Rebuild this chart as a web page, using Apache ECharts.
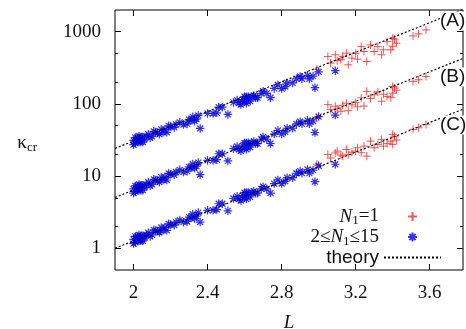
<!DOCTYPE html>
<html>
<head>
<meta charset="utf-8">
<script src="https://cdn.jsdelivr.net/npm/echarts@6/dist/echarts.min.js"></script>
<style>
html, body {margin: 0; padding: 0; background: #fff;}
#chart {width: 466px; height: 329px;}
</style>
</head>
<body>
<div id="chart"></div>
<script>
// L of the networks with 2<=N1<=15 (same networks in the three bands)
const blueL = [2.00, 2.01, 2.02, 2.02, 2.03, 2.03, 2.04, 2.05, 2.06, 2.08,
    2.10, 2.11, 2.13, 2.14, 2.15, 2.17, 2.18, 2.20, 2.22, 2.25,
    2.27, 2.30, 2.31, 2.33, 2.35, 2.36, 2.40, 2.43, 2.46, 2.48,
    2.51, 2.54, 2.57, 2.59, 2.60, 2.61, 2.62, 2.63, 2.65, 2.67,
    2.70, 2.72, 2.74, 2.76, 2.78, 2.80, 2.83, 2.86, 2.88, 2.91,
    2.94, 2.97, 2.98, 3.00, 3.09,
    2.00, 2.01, 2.03, 2.04, 2.05, 2.07, 2.09, 2.12, 2.16, 2.19,
    2.23, 2.29, 2.32, 2.34, 2.45, 2.56, 2.58, 2.60, 2.61, 2.62,
    2.64, 2.66, 2.69, 2.82, 2.90, 2.95];
const blueA = [31.2, 28.4, 34.1, 30.4, 31.8, 35.7, 29.7, 34.8, 32.5, 38.1,
    35.5, 41.7, 39.7, 37.9, 44.5, 44.4, 40.4, 48.5, 47.3, 55.5,
    51.7, 60.5, 59.1, 57.7, 69.2, 45.7, 73.8, 73.6, 90.3, 90.1,
    71.4, 105, 103, 115, 107, 126, 117, 109, 131, 122,
    150, 140, 122, 164, 183, 163, 195, 195, 223, 223,
    249, 243, 168, 278, 289,
    27.2, 34.2, 29.7, 34.9, 29.6, 35.6, 33.9, 40.7, 40.5, 49.7,
    51.9, 52.8, 66.3, 61.7, 75.2, 113, 97.9, 126, 102, 126,
    125, 122, 140, 174, 239, 222];
const blueB = [6.67, 6.08, 7.31, 6.52, 6.83, 7.66, 6.37, 7.49, 6.99, 8.22,
    7.67, 9.02, 8.62, 8.23, 9.67, 9.68, 8.83, 10.6, 10.4, 12.2,
    11.4, 13.4, 13.1, 12.8, 15.4, 10.5, 16.5, 16.5, 20.4, 20.4,
    16.2, 24.0, 23.4, 26.3, 24.5, 28.8, 26.9, 25.1, 30.2, 28.2,
    34.8, 32.4, 28.3, 38.2, 42.8, 38.2, 46.0, 46.0, 52.8, 52.9,
    59.3, 58.0, 40.2, 66.7, 70.0,
    5.81, 7.31, 6.37, 7.49, 6.38, 7.67, 7.33, 8.81, 8.82, 10.9,
    11.4, 11.7, 14.7, 13.7, 16.9, 25.7, 22.4, 28.8, 23.5, 28.9,
    28.9, 28.2, 32.4, 41.0, 56.6, 52.9];
const blueC = [1.33, 1.21, 1.46, 1.30, 1.36, 1.53, 1.27, 1.49, 1.40, 1.64,
    1.53, 1.80, 1.73, 1.65, 1.94, 1.94, 1.77, 2.13, 2.09, 2.46,
    2.30, 2.70, 2.64, 2.59, 3.12, 2.31, 3.35, 3.36, 4.14, 4.14,
    3.30, 4.89, 4.79, 5.38, 5.02, 5.91, 5.51, 5.15, 6.20, 5.80,
    7.14, 6.68, 5.82, 7.87, 8.84, 7.89, 9.50, 9.52, 10.95, 10.97,
    12.34, 12.08, 8.36, 13.9, 14.6,
    1.16, 1.46, 1.27, 1.49, 1.27, 1.53, 1.46, 1.76, 1.77, 2.18,
    2.29, 2.35, 2.97, 2.78, 3.44, 5.25, 4.58, 5.90, 4.80, 5.91,
    5.92, 5.79, 6.66, 8.47, 11.75, 11.0];

// L of the networks with N1=1
const redL = [2.99, 3.05, 3.065, 3.09, 3.10, 3.12, 3.13, 3.15, 3.16, 3.18,
    3.20, 3.21, 3.23, 3.245, 3.26, 3.28, 3.30, 3.32, 3.34, 3.35,
    3.37, 3.39, 3.40, 3.40, 3.41, 3.42, 3.51, 3.54, 3.58];
const redA = [302, 454, 368, 479, 398, 408, 457, 505, 348, 431,
    501, 417, 622, 532, 387, 658, 532, 622, 479, 562,
    729, 561, 813, 631, 789, 692, 875, 933, 1059];
const redB = [64.6, 97.7, 83.2, 92.7, 85.1, 79.1, 95.5, 102, 80.5, 97.0,
    104, 91.0, 121, 93.5, 149, 119, 134, 147, 109, 136,
    127, 122, 175, 141, 166, 155, 205, 216, 240];
const redC = [14.6, 19.95, 17.8, 20.9, 22.2, 19.5, 18.9, 23.4, 19.9, 21.4,
    22.2, 24.7, 21.1, 26.0, 18.9, 30.5, 24.7, 27.5, 32.2, 26.0,
    28.2, 30.5, 37.8, 27.5, 35.7, 31.6, 44.3, 46.7, 51.8];

// theory lines, end points
const theoryL = [1.9, 3.78];
const theoryA = [24.2, 2040];
const theoryB = [5.05, 427];
const theoryC = [1.0, 84.5];

const xTicks = [2, 2.4, 2.8, 3.2, 3.6];
const yTicks = [1, 10, 100, 1000];
const yMinorTicks = [2, 5, 20, 50, 200, 500];
const bandLabels = ['(A)', '(B)', '(C)'];

const zip = (xs, ys) => xs.map((x, i) => [x, ys[i]]);

const serif = '"Liberation Serif", "Times New Roman", serif';
const sans = '"Liberation Sans", Arial, sans-serif';
const plus = 'path://M0,5L10,5M5,0L5,10';
const star = 'path://M0,5L10,5M5,0L5,10M1.5,1.5L8.5,8.5M1.5,8.5L8.5,1.5';

const rich = {
    r: {fontFamily: serif, fontSize: 19, color: '#111', lineHeight: 22},
    i: {fontFamily: serif, fontSize: 19, fontStyle: 'italic', color: '#111', lineHeight: 22},
    s: {fontFamily: serif, fontSize: 13, color: '#111', lineHeight: 13, verticalAlign: 'bottom'},
    t: {fontFamily: sans, fontSize: 19, color: '#111', lineHeight: 22}
};

const xAxisBase = {
    type: 'value', min: 1.9, max: 3.78,
    axisLine: {show: false}, splitLine: {show: false},
    axisTick: {inside: true, length: 6, customValues: xTicks, lineStyle: {color: '#000'}}
};
const yAxisBase = {
    type: 'log', logBase: 10, min: 0.5, max: 2000,
    axisLine: {show: false}, splitLine: {show: false}
};

const chart = echarts.init(document.getElementById('chart'));
chart.setOption({
    animation: false,
    grid: {left: 115, right: 3, top: 10, bottom: 59, outerBoundsMode: 'none',
        show: true, borderColor: '#000', borderWidth: 1},
    xAxis: [
        Object.assign({}, xAxisBase, {
            position: 'bottom',
            name: 'L', nameLocation: 'middle', nameGap: 43,
            nameTextStyle: {fontFamily: serif, fontStyle: 'italic', fontSize: 19, color: '#111'},
            axisLabel: {customValues: xTicks, margin: 14, fontFamily: serif, fontSize: 19, color: '#111',
                formatter: v => String(v)}
        }),
        Object.assign({}, xAxisBase, {position: 'top', axisLabel: {show: false}})
    ],
    yAxis: [
        Object.assign({}, yAxisBase, {
            position: 'left',
            name: '{r|κ}{s|cr}', nameLocation: 'middle', nameRotate: 0, nameGap: 78,
            nameTextStyle: {rich: rich, padding: [6, 0, 0, 0]},
            axisTick: {inside: true, length: 6, customValues: yTicks, lineStyle: {color: '#000'}},
            axisLabel: {customValues: yTicks, margin: 14, fontFamily: serif, fontSize: 19, color: '#111',
                formatter: v => String(Math.round(v))}
        }),
        Object.assign({}, yAxisBase, {
            position: 'left', axisLabel: {show: false},
            axisTick: {inside: true, length: 3, customValues: yMinorTicks, lineStyle: {color: '#000'}}
        }),
        Object.assign({}, yAxisBase, {
            position: 'right', axisLabel: {show: false},
            axisTick: {inside: true, length: 6, customValues: yTicks, lineStyle: {color: '#000'}}
        }),
        Object.assign({}, yAxisBase, {
            position: 'right', axisLabel: {show: false},
            axisTick: {inside: true, length: 3, customValues: yMinorTicks, lineStyle: {color: '#000'}}
        })
    ],
    legend: {
        orient: 'vertical', align: 'right', right: 24, top: 207, padding: 0,
        itemWidth: 57, itemHeight: 9, itemGap: 0, selectedMode: false,
        data: ['N1=1', '2<=N1<=15', 'theory'],
        formatter: name => {
            if (name === 'N1=1') return '{i|N}{s|1}{r|=1}';
            if (name === '2<=N1<=15') return '{r|2≤}{i|N}{s|1}{r|≤15}';
            return '{t|theory}';
        },
        textStyle: {rich: rich}
    },
    series: [
        {
            name: 'N1=1', type: 'scatter', symbol: plus, symbolSize: 8,
            itemStyle: {color: '#ff2a2a', borderColor: '#ff2a2a', borderWidth: 1},
            data: zip(redL, redA).concat(zip(redL, redB), zip(redL, redC))
        },
        {
            name: '2<=N1<=15', type: 'scatter', symbol: star, symbolSize: 8.5,
            itemStyle: {color: '#0000e6', borderColor: '#0000e6', borderWidth: 1.2},
            data: zip(blueL, blueA).concat(zip(blueL, blueB), zip(blueL, blueC))
        },
        ...[theoryA, theoryB, theoryC].map(k => ({
            name: 'theory', type: 'line', symbol: 'none', z: 5,
            itemStyle: {color: 'rgba(0,0,0,0)'},
            lineStyle: {color: '#000', width: 1.2, type: [2, 2]},
            data: zip(theoryL, k)
        }))
    ],
    graphic: bandLabels.map((t, i) => ({
        type: 'text', z: 100, x: 440, y: [21, 77, 125][i],
        style: {text: t, font: '19px ' + sans, fill: '#111', verticalAlign: 'middle',
            backgroundColor: '#fff'}
    }))
});
</script>
</body>
</html>
